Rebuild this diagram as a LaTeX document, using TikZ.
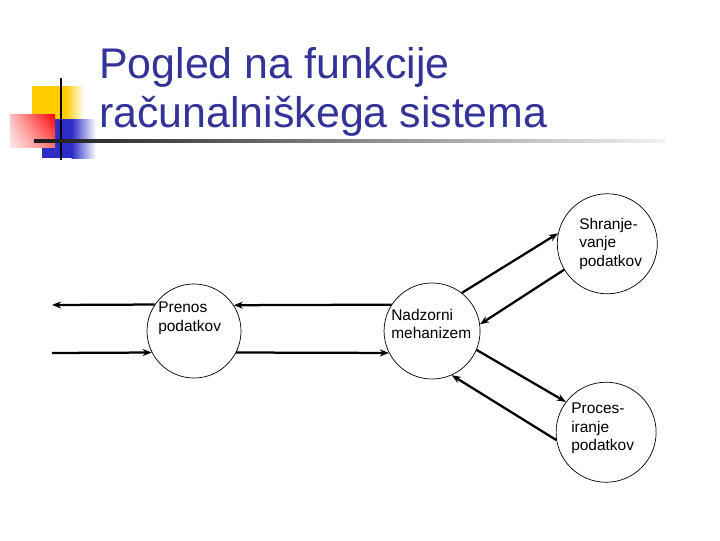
\documentclass[tikz,border=0pt]{standalone}
\usepackage{fontspec}
\setmainfont{Liberation Sans}
\usetikzlibrary{positioning,arrows.meta,shadings}
\definecolor{titleblue}{RGB}{51,51,153}
\definecolor{decoyellow}{RGB}{255,204,0}
\definecolor{decoblue}{RGB}{45,45,200}

\begin{document}
\begin{tikzpicture}[%
    x=0.025cm, y=-0.025cm,
    >={Stealth[length=6.5pt,width=5pt]},
    node distance=2cm,
    on grid,
    proc/.style={circle, draw, line width=0.5pt, minimum size=2.4cm, inner sep=0pt},
    lbl/.style={anchor=north west, align=left, inner sep=0pt, font=\fontsize{11}{13}\selectfont},
    ttl/.style={anchor=base west, inner sep=0pt, text=titleblue, font=\fontsize{30.5}{35}\selectfont},
    flow/.style={->, line width=1.6pt}
    ]
    \fill[white] (0,0) rectangle (720,540);
    \useasboundingbox (0,0) rectangle (720,540);

    \fill[decoyellow] (32,86) rectangle (66,120);
    \shade[left color=decoyellow, right color=white] (65.5,86) rectangle (84,120);
    \fill[decoblue] (42,119) rectangle (72,158);
    \shade[left color=decoblue, right color=white] (71.5,119) rectangle (96,158);
    \shade[upper right=red, lower left=red!8, upper left=red!25, lower right=red!55] (10,114) rectangle (55,147);
    \draw[line width=1.5pt] (61,78) -- (61,160);
    \shade[left color=black!90, right color=black!5] (34,139.5) rectangle (665,142);

    \node[ttl] (title1) at (99,78) {Pogled na funkcije};
    \node[ttl] (title2) at (99,127) {računalniškega sistema};

    \node[proc, minimum size=2.35cm] (pre) at (194,331) {};
    \node[proc] (nad) [right=5.95cm of pre] {};
    \node[proc, minimum size=2.5cm] (shr) [above right=2.18cm and 4.38cm of nad] {};
    \node[proc, minimum size=2.5cm] (pro) [below right=2.53cm and 4.35cm of nad] {};

    \node[lbl] (preT) at (158,302) {Prenos\\podatkov};
    \node[lbl] (nadT) at (391,309) {Nadzorni\\mehanizem};
    \node[lbl] (shrT) at (579,218) {Shranje-\\vanje\\podatkov};
    \node[lbl] (proT) at (571,403) {Proces-\\iranje\\podatkov};

    \coordinate (outT) at (52,305);
    \coordinate (inB) at (52,353);

    \draw[flow] (pre.146.4) -- (outT);
    \draw[flow] (inB) -- (pre.207.9);
    \draw[flow] (nad.147.2) -- (pre.33.6);
    \draw[flow] (pre.-27.9) -- (nad.207.3);
    \draw[flow] (nad.52.4) -- (shr.168.5);
    \draw[flow] (shr.211.8) -- (nad.8);
    \draw[flow] (nad.-23.8) -- (pro.143.1);
    \draw[flow] (pro.189.9) -- (nad.-66.8);

\end{tikzpicture}
\end{document}
